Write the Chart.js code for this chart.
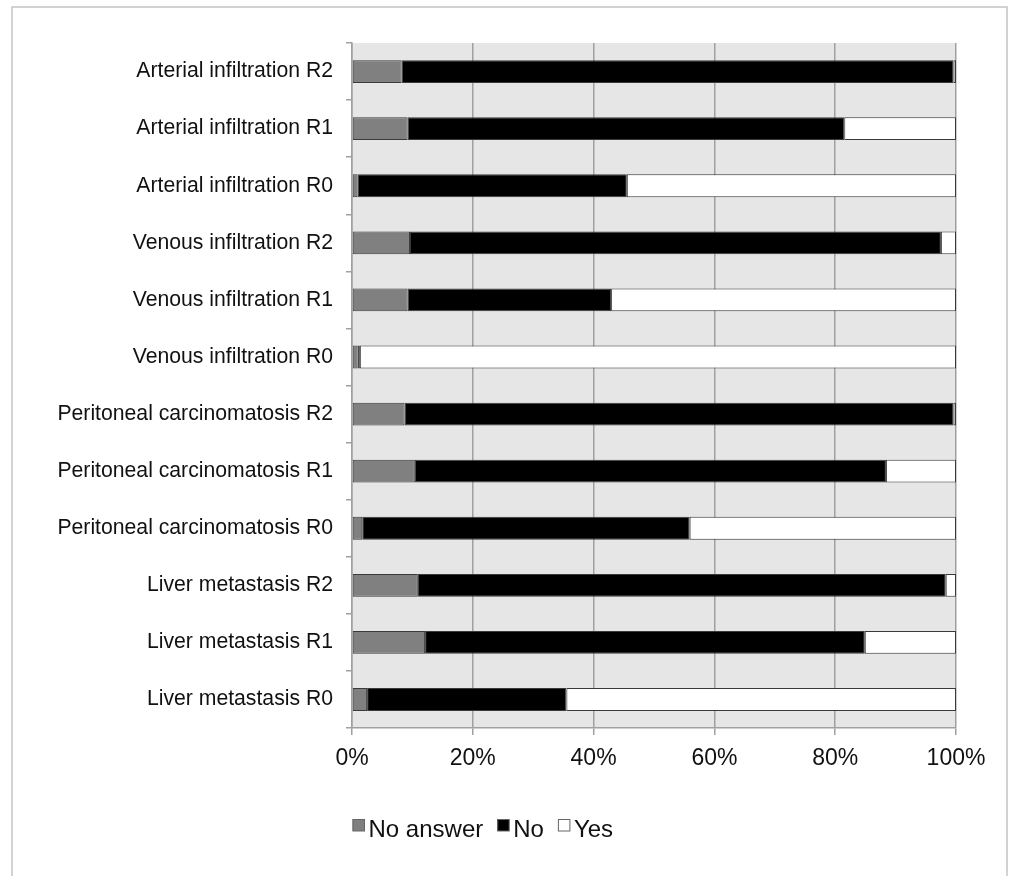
<!DOCTYPE html>
<html>
<head>
<meta charset="utf-8">
<script src="https://cdn.jsdelivr.net/npm/chart.js@4.4.1/dist/chart.umd.min.js"></script>
<style>
  html, body { margin: 0; padding: 0; background: #ffffff; }
  #wrap { width: 1013px; height: 876px; position: relative; }
</style>
</head>
<body>
<div id="wrap"><canvas id="c" width="1013" height="876"></canvas></div>
<script>
const categories = [
  "Arterial infiltration R2",
  "Arterial infiltration R1",
  "Arterial infiltration R0",
  "Venous infiltration R2",
  "Venous infiltration R1",
  "Venous infiltration R0",
  "Peritoneal carcinomatosis R2",
  "Peritoneal carcinomatosis R1",
  "Peritoneal carcinomatosis R0",
  "Liver metastasis R2",
  "Liver metastasis R1",
  "Liver metastasis R0"
];
const noAnswer = [8.2, 9.2, 0.9, 9.6, 9.2, 0.9, 8.7, 10.4, 1.7, 10.9, 12.1, 2.5];
const no       = [91.4, 72.3, 44.6, 87.9, 33.7, 0.4, 90.9, 78.0, 54.2, 87.4, 72.8, 33.0];
const yes      = [0.4, 18.5, 54.5, 2.5, 57.1, 98.7, 0.4, 11.6, 44.1, 1.7, 15.1, 64.5];
const xTicks   = [0, 20, 40, 60, 80, 100];
const seriesNames = ["No answer", "No", "Yes"];

const FONT = "'Liberation Sans', Arial, Helvetica, sans-serif";

const bgPlugin = {
  id: 'bg',
  beforeDraw(chart) {
    const ctx = chart.ctx;
    const a = chart.chartArea;
    ctx.save();
    ctx.fillStyle = '#ffffff';
    ctx.fillRect(0, 0, chart.width, chart.height);
    ctx.strokeStyle = '#c4c4c4';
    ctx.lineWidth = 1.5;
    ctx.strokeRect(12, 7, 995, 880);
    ctx.fillStyle = '#e6e6e6';
    ctx.fillRect(a.left, a.top, a.right - a.left, a.bottom - a.top);
    ctx.restore();
  }
};

const legendPlugin = {
  id: 'customLegend',
  afterDraw(chart) {
    const ctx = chart.ctx;
    ctx.save();
    ctx.font = "24px " + FONT;
    ctx.textBaseline = 'alphabetic';
    let x = chart.chartArea.left + 0.5;
    chart.data.datasets.forEach(ds => {
      ctx.fillStyle = ds.backgroundColor;
      ctx.fillRect(x, 819, 12, 12);
      ctx.strokeStyle = '#666666';
      ctx.lineWidth = 1;
      ctx.strokeRect(x + 0.5, 819.5, 11.5, 11.5);
      ctx.fillStyle = '#111111';
      ctx.fillText(ds.label, x + 16, 837);
      x += 16 + ctx.measureText(ds.label).width + 14;
    });
    ctx.restore();
  }
};

const barStyle = {
  borderColor: '#3a3a3a',
  borderWidth: 1,
  borderSkipped: false,
  barPercentage: 0.40,
  categoryPercentage: 1.0
};

new Chart(document.getElementById('c'), {
  type: 'bar',
  data: {
    labels: categories,
    datasets: [
      Object.assign({ label: seriesNames[0], data: noAnswer, backgroundColor: '#808080' }, barStyle),
      Object.assign({ label: seriesNames[1], data: no, backgroundColor: '#000000' }, barStyle),
      Object.assign({ label: seriesNames[2], data: yes, backgroundColor: '#ffffff' }, barStyle)
    ]
  },
  options: {
    indexAxis: 'y',
    responsive: false,
    animation: false,
    devicePixelRatio: 1,
    layout: { padding: { left: 0, top: 43, right: 57, bottom: 0 } },
    plugins: {
      legend: { display: false },
      tooltip: { enabled: false }
    },
    scales: {
      x: {
        stacked: true,
        min: 0,
        max: 100,
        afterBuildTicks(scale) {
          scale.ticks = xTicks.map(v => ({ value: v }));
        },
        afterFit(scale) { scale.height = 148; },
        ticks: {
          callback: v => v + '%',
          color: '#111111',
          font: { family: FONT, size: 23 },
          padding: 10,
          maxRotation: 0,
          autoSkip: false
        },
        grid: {
          color: '#a0a0a0',
          lineWidth: 1.5,
          tickLength: 7,
          drawTicks: true
        },
        border: { display: true, color: '#a0a0a0', width: 1.5 }
      },
      y: {
        stacked: true,
        afterFit(scale) { scale.width = 352; },
        ticks: {
          color: '#111111',
          font: { family: FONT, size: 21.2 },
          padding: 13,
          autoSkip: false
        },
        grid: {
          display: true,
          drawOnChartArea: false,
          offset: true,
          color: '#a0a0a0',
          lineWidth: 1.5,
          tickLength: 6
        },
        border: { display: true, color: '#a0a0a0', width: 1.5 }
      }
    }
  },
  plugins: [bgPlugin, legendPlugin]
});
</script>
</body>
</html>
